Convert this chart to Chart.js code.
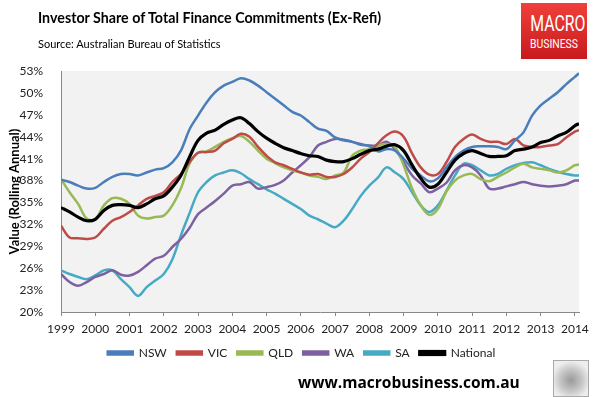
<!DOCTYPE html>
<html>
<head>
<meta charset="utf-8">
<script src="https://cdn.jsdelivr.net/npm/chart.js@4.4.1/dist/chart.umd.min.js"></script>
<style>
  body { margin: 0; background: #fff; }
  #wrap { position: relative; width: 598px; height: 397px; overflow: hidden; }
  #title { position: absolute; left: 38px; top: 7px; font: bold 16px Lato, sans-serif; color: #000;
           white-space: nowrap; transform: scaleX(0.89); transform-origin: left top; }
  #source { position: absolute; left: 38px; top: 37px; font: 11px Lato, sans-serif; color: #000; white-space: nowrap; }
  #logo { position: absolute; left: 521px; top: 3px; width: 66px; height: 56px; overflow: hidden;
          background: linear-gradient(#f0403a, #c81a1e); color: #fff; text-align: center; }
  #logo .m { font: 22px Roboto, sans-serif; margin-top: 10px; line-height: 22px; transform: scaleX(0.72); white-space: nowrap; }
  #logo .b { font: 13px Roboto, sans-serif; line-height: 17px; transform: scaleX(0.8); white-space: nowrap; }
  #url { position: absolute; left: 298px; top: 371px; font: bold 15.5px "Open Sans", sans-serif; color: #000; white-space: nowrap; }
  #wolf { position: absolute; left: 553px; top: 360px; width: 34px; height: 35px; border: 1px solid #aaa;
          background: radial-gradient(circle at 50% 55%, #9a9a9a 0, #c8c8c8 45%, #eee 75%); }
</style>
</head>
<body>
<div id="wrap">
  <canvas id="myChart" width="598" height="397"></canvas>
  <div id="title">Investor Share of Total Finance Commitments (Ex-Refi)</div>
  <div id="source">Source: Australian Bureau of Statistics</div>
  <div id="logo"><div class="m">MACRO</div><div class="b">BUSINESS</div></div>
  <div id="url">www.macrobusiness.com.au</div>
  <div id="wolf"></div>
</div>
<script>
// 분기별 시점 (1999.0 ~ 2014.0, 마지막은 2014년 2월쯤)
const quarters = [];
for (let y = 1999; y <= 2014; y += 0.25) quarters.push(y);
quarters.push(2014.12);

// 주별 투자자 비중 (%), 그림에서 읽은 값
const nsw = [38.1, 37.8, 37.3, 36.9, 37.0, 37.8, 38.5, 38.9, 38.9, 38.7, 39.1, 39.5, 39.7, 40.5, 42.1, 45.0,
  46.9, 48.7, 50.1, 51.0, 51.5, 52.0, 51.7, 51.0, 50.1, 49.2, 48.3, 47.4, 46.9, 46.0, 45.1, 44.8,
  43.9, 43.5, 43.3, 42.9, 42.7, 42.0, 42.3, 42.1, 41.0, 39.6, 38.7, 37.9, 38.3, 39.8, 41.2, 42.1,
  42.6, 42.7, 42.7, 42.6, 42.3, 43.5, 44.6, 46.9, 48.3, 49.2, 50.1, 51.2, 52.2, 52.7];
const vic = [31.8, 30.2, 30.1, 30.0, 30.2, 31.4, 32.5, 33.0, 33.7, 34.6, 35.5, 35.9, 36.4, 37.8, 38.9, 40.5,
  41.8, 41.9, 42.1, 43.1, 43.7, 44.4, 44.0, 42.6, 41.4, 40.5, 40.1, 39.6, 39.1, 38.8, 38.9, 38.5,
  38.5, 38.9, 39.8, 41.0, 41.9, 43.1, 44.2, 44.7, 44.0, 41.7, 39.8, 38.8, 38.9, 40.5, 42.6, 43.7,
  44.3, 43.7, 43.3, 43.3, 43.0, 43.7, 42.8, 42.6, 42.6, 42.8, 43.0, 43.9, 44.7, 44.9];
const qld = [38.2, 36.4, 34.8, 32.8, 32.7, 34.6, 35.6, 35.5, 34.8, 33.2, 32.8, 33.0, 33.2, 34.6, 36.9, 40.3,
  41.8, 42.0, 42.6, 43.3, 43.8, 44.1, 43.3, 42.1, 41.0, 40.4, 39.8, 39.4, 39.1, 38.7, 38.5, 38.2,
  38.7, 39.1, 41.4, 42.1, 42.3, 42.8, 43.0, 42.6, 40.1, 36.9, 34.6, 33.3, 34.1, 36.5, 38.0, 38.7,
  38.9, 38.2, 37.9, 38.5, 39.1, 39.8, 40.3, 39.8, 39.6, 39.4, 39.1, 39.4, 40.1, 40.2];
const wa = [25.2, 24.1, 23.6, 24.1, 24.8, 25.2, 25.7, 25.1, 25.0, 25.5, 26.4, 27.3, 27.7, 28.9, 30.0, 31.5,
  33.4, 34.3, 35.2, 36.2, 37.3, 37.5, 37.8, 36.9, 37.1, 37.4, 38.0, 39.1, 40.1, 41.2, 42.8, 43.3,
  43.7, 43.6, 43.3, 43.0, 42.8, 42.8, 43.3, 42.3, 40.5, 38.7, 37.6, 36.4, 36.9, 37.7, 39.4, 40.1,
  39.8, 38.7, 36.9, 36.9, 37.2, 37.5, 37.8, 37.5, 37.3, 37.2, 37.3, 37.5, 38.0, 38.0];
const sa = [25.7, 25.2, 24.8, 24.5, 25.0, 25.7, 25.7, 24.5, 23.4, 22.2, 23.4, 24.3, 25.2, 27.2, 30.5, 33.5,
  36.4, 37.8, 38.7, 39.1, 39.4, 39.0, 38.2, 37.5, 36.8, 36.2, 35.5, 34.8, 34.1, 33.2, 32.7, 32.1,
  31.6, 32.5, 34.1, 35.9, 37.3, 38.4, 39.8, 39.1, 38.2, 36.4, 34.6, 33.7, 34.6, 36.6, 38.7, 40.3,
  40.1, 39.4, 38.7, 38.9, 39.6, 40.1, 40.4, 40.5, 40.1, 39.6, 39.2, 38.9, 38.7, 38.7];
const national = [34.3, 33.7, 33.0, 32.5, 32.7, 33.9, 34.6, 34.7, 34.6, 34.3, 34.8, 35.5, 35.9, 37.1, 38.7, 41.2,
  43.5, 44.5, 44.9, 45.7, 46.3, 46.6, 45.8, 44.7, 43.8, 43.1, 42.5, 42.1, 41.7, 41.4, 41.3, 40.8,
  40.6, 40.6, 41.0, 41.6, 42.1, 42.3, 42.7, 42.9, 42.1, 40.1, 38.3, 37.1, 37.5, 39.1, 40.8, 41.7,
  42.1, 41.7, 41.3, 41.3, 41.4, 42.1, 42.3, 42.6, 43.2, 43.5, 44.1, 44.6, 45.5, 45.8];

const seriesNames = ["NSW", "VIC", "QLD", "WA", "SA", "National"];
const seriesColors = ["#4a7ebb", "#be4b48", "#98b954", "#7d60a0", "#46aac5", "#000000"];
const seriesValues = [nsw, vic, qld, wa, sa, national];

// 플롯 영역 회색 배경
const plotBg = {
  id: "plotBg",
  beforeDraw(chart) {
    const { ctx, chartArea: a } = chart;
    ctx.save();
    ctx.fillStyle = "#f2f2f2";
    ctx.fillRect(a.left, a.top, a.right - a.left, a.bottom - a.top);
    ctx.restore();
  },
};

// 범례를 원본처럼 조금 오른쪽으로
const legendShift = {
  id: "legendShift",
  afterLayout(chart) {
    chart.legend.left += 12;
    chart.legend.right += 12;
  },
};

Chart.defaults.font.family = "Lato, sans-serif";
Chart.defaults.font.size = 12;
Chart.defaults.color = "#222";

const ctx = document.getElementById("myChart").getContext("2d");
const myChart = new Chart(ctx, {
  type: "line",
  data: {
    datasets: seriesNames.map((name, i) => ({
      label: name,
      data: seriesValues[i].map((v, j) => ({ x: quarters[j], y: v })),
      borderColor: seriesColors[i],
      backgroundColor: seriesColors[i],
      borderWidth: name === "National" ? 3.2 : 2.5,
      pointRadius: 0,
      tension: 0.35,
      order: name === "National" ? 0 : 1,
    })),
  },
  options: {
    responsive: false,
    animation: false,
    layout: { padding: { top: 71, right: 19, bottom: 28, left: 0 } },
    plugins: {
      legend: {
        position: "bottom",
        labels: {
          boxWidth: 25,
          boxHeight: 3,
          padding: 10,
          color: "#222",
          font: { size: 12 },
          sort: (a, b) => a.datasetIndex - b.datasetIndex,
        },
      },
      tooltip: { enabled: false },
    },
    scales: {
      x: {
        type: "linear",
        min: 1999,
        max: 2014.12,
        afterFit: (s) => { s.height = 25; },
        grid: { drawOnChartArea: false, drawTicks: true, tickLength: 4, color: "#888" },
        border: { color: "#888" },
        ticks: {
          stepSize: 1,
          includeBounds: false,
          maxRotation: 0,
          autoSkip: false,
          padding: 6,
          callback: (v) => String(v),
        },
      },
      y: {
        min: 20,
        max: 53,
        afterFit: (s) => { s.width = 61; },
        grid: { display: false },
        border: { display: true, color: "#888" },
        ticks: { stepSize: 3, padding: 10, callback: (v) => v + "%" },
        title: {
          display: true,
          text: "Value (Rolling Annual)",
          font: { size: 13, weight: "bold" },
          color: "#000",
          padding: { top: 7, bottom: 0 },
        },
      },
    },
  },
  plugins: [plotBg, legendShift],
});
</script>
</body>
</html>
